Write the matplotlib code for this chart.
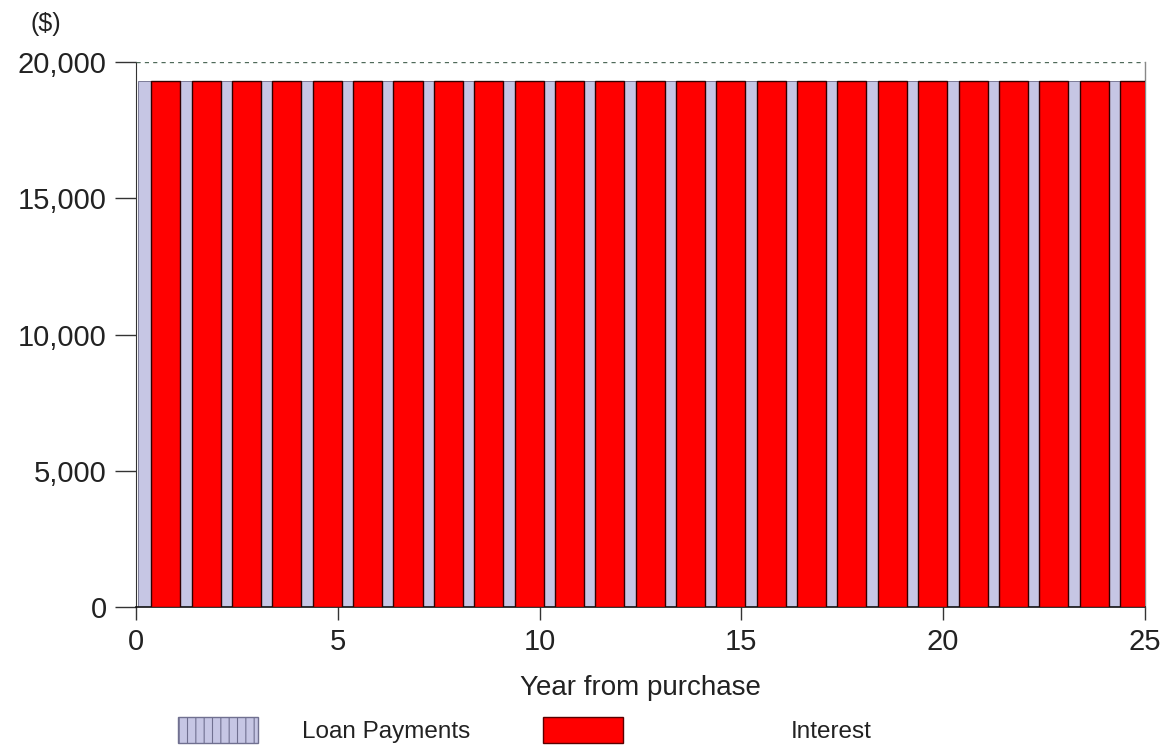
import matplotlib
matplotlib.use("Agg")
import matplotlib.pyplot as plt
import numpy as np
from matplotlib.patches import Patch
from matplotlib.ticker import FuncFormatter

plt.rcParams['font.family'] = ['Liberation Sans', 'DejaVu Sans']
plt.rcParams['hatch.color'] = '#b4b4d4'
plt.rcParams['hatch.linewidth'] = 0.8

# yearly figures, years 0..24 after purchase
years = np.arange(25)
loan_payments = [19300, 19300, 19300, 19300, 19300, 19300, 19300, 19300, 19300, 19300,
                 19300, 19300, 19300, 19300, 19300, 19300, 19300, 19300, 19300, 19300,
                 19300, 19300, 19300, 19300, 19300]
interest = [19300, 19300, 19300, 19300, 19300, 19300, 19300, 19300, 19300, 19300,
            19300, 19300, 19300, 19300, 19300, 19300, 19300, 19300, 19300, 19300,
            19300, 19300, 19300, 19300, 19300]
y_ticks = [0, 5000, 10000, 15000, 20000]
x_ticks = [0, 5, 10, 15, 20, 25]

lavender = '#c6c6e4'
red = '#ff0000'
txt = '#222222'

fig = plt.figure(figsize=(11.68, 7.46), dpi=100)
ax = fig.add_axes([0.1164, 0.1863, 0.8639, 0.7306])

# payments drawn behind, interest in front, offset within each year
ax.bar(years + 0.05, loan_payments, width=0.9, align='edge', color=lavender,
       edgecolor='#6a6a88', linewidth=0.6, zorder=2)
ax.bar(years + 0.38, interest, width=0.72, align='edge', color=red,
       edgecolor='#300000', linewidth=1.0, zorder=3)

ax.axhline(20000, color='#4f6a5a', linestyle=(0, (3, 3)), linewidth=1.0, zorder=4)

ax.set_xlim(0, 25)
ax.set_ylim(0, 20000)
ax.set_xticks(x_ticks)
ax.set_yticks(y_ticks)
ax.yaxis.set_major_formatter(FuncFormatter(lambda v, p: f'{int(v):,}'))

ax.spines['top'].set_visible(False)
ax.spines['right'].set_color('#888888')
ax.spines['right'].set_linewidth(1.0)
ax.spines['left'].set_color('#333333')
ax.spines['bottom'].set_color('#111111')
ax.spines['bottom'].set_linewidth(1.2)

ax.tick_params(axis='y', direction='out', length=15, width=1, pad=6,
               labelsize=21, labelcolor=txt, color='#333333')
ax.tick_params(axis='x', direction='out', length=9, width=1, pad=6,
               labelsize=21, labelcolor=txt, color='#333333')

ax.set_xlabel('Year from purchase', fontsize=20, color=txt, labelpad=14)
fig.text(0.039, 0.968, '($)', fontsize=18, color=txt, ha='center', va='center')

# two separate legend entries, each with its own spacing
legend_kw = dict(frameon=False, loc='lower left', fontsize=17.5,
                 handlelength=3.3, handleheight=1.25, labelcolor=txt,
                 borderaxespad=0, borderpad=0)
fig.legend([Patch(facecolor=lavender, edgecolor='#707090', hatch='||', linewidth=1)],
           ['Loan Payments'], bbox_to_anchor=(0.1524, 0.004),
           handletextpad=1.8, **legend_kw)
fig.legend([Patch(facecolor=red, edgecolor='#5a0000', linewidth=1)],
           ['Interest'], bbox_to_anchor=(0.4649, 0.004),
           handletextpad=6.9, **legend_kw)

fig.savefig('out.png', dpi=100)
